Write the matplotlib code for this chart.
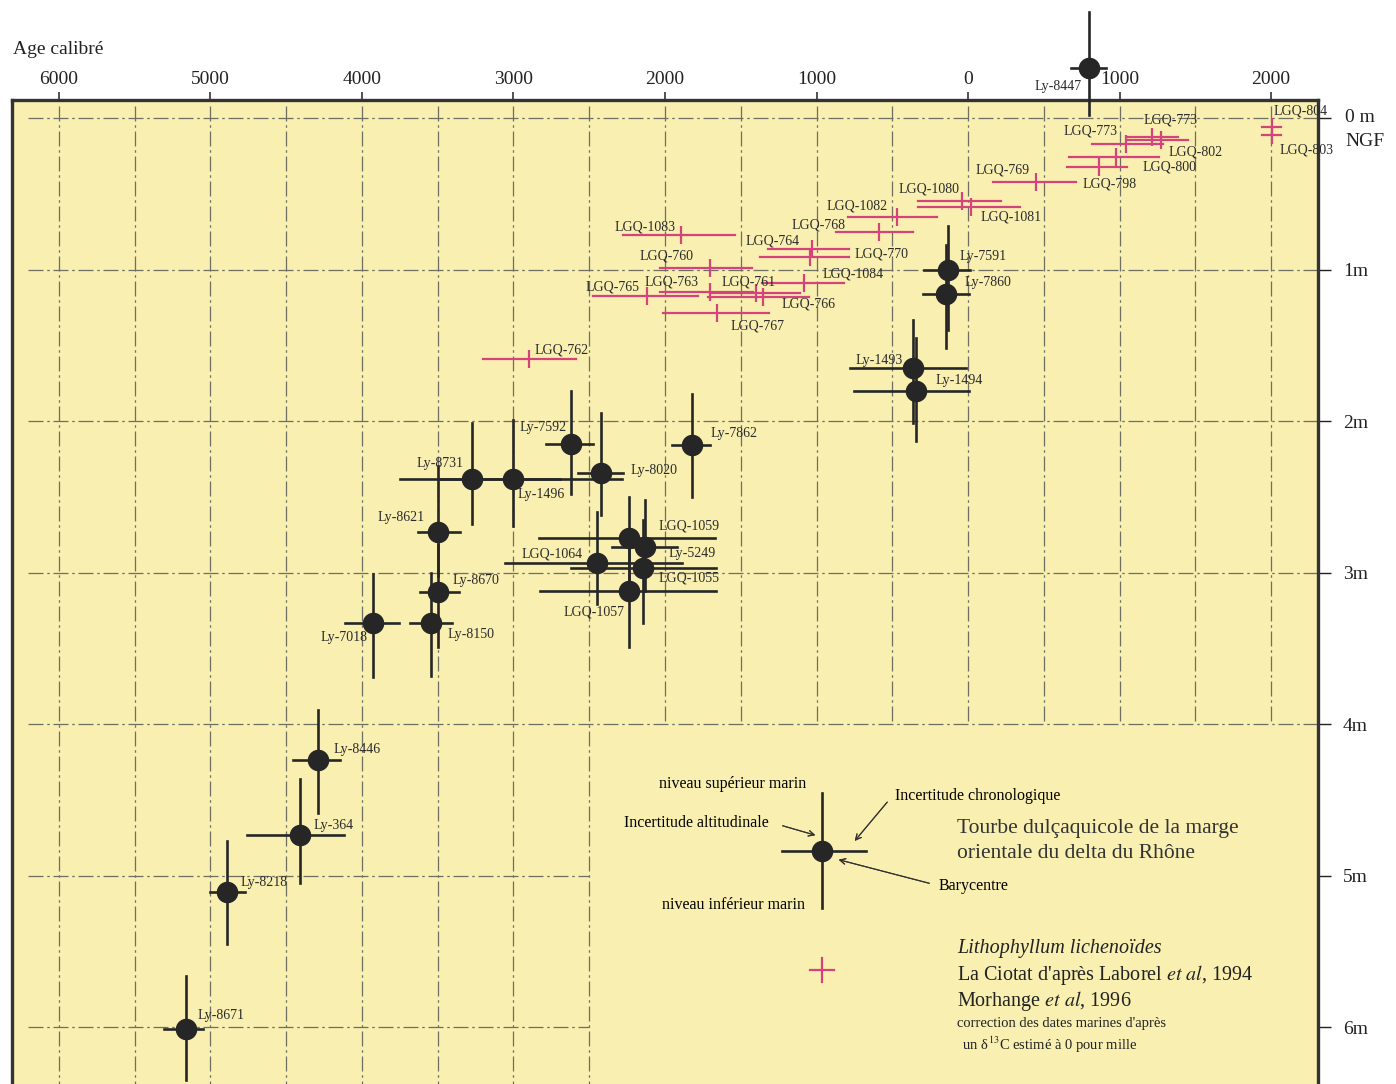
import matplotlib
matplotlib.use("Agg")
import matplotlib.pyplot as plt
from matplotlib.lines import Line2D
import numpy as np

plt.rcParams['font.family'] = ['Liberation Serif', 'DejaVu Serif']
plt.rcParams['mathtext.fontset'] = 'stix'

# Peat dates (black) -- age in years (negative = BC), depth in m below 0 m NGF
peat_labels = ['Ly-8447', 'Ly-7591', 'Ly-7860', 'Ly-1493', 'Ly-1494', 'Ly-7592', 'Ly-7862',
               'Ly-8020', 'Ly-8731', 'Ly-1496', 'Ly-8621', 'Ly-8670', 'Ly-8150', 'Ly-7018',
               'LGQ-1059', 'Ly-5249', 'LGQ-1064', 'LGQ-1055', 'LGQ-1057',
               'Ly-8446', 'Ly-364', 'Ly-8218', 'Ly-8671']
peat_age = [800, -130, -145, -365, -345, -2620, -1820, -2420, -3275, -3000, -3500, -3500,
            -3545, -3925, -2240, -2130, -2450, -2145, -2240, -4290, -4410, -4890, -5160]
peat_depth = [-0.33, 1.00, 1.16, 1.65, 1.80, 2.15, 2.16, 2.34, 2.38, 2.38, 2.73, 3.13,
              3.33, 3.33, 2.77, 2.83, 2.94, 2.97, 3.12, 4.24, 4.73, 5.11, 6.01]
peat_age_lo = [680, -290, -297, -780, -750, -2785, -1955, -2575, -3750, -3485, -3630, -3615,
               -3685, -4110, -2830, -2350, -3055, -2620, -2825, -4455, -4760, -5000, -5305]
peat_age_hi = [910, 15, 5, -15, 5, -2475, -1705, -2275, -2690, -2285, -3355, -3360,
               -3405, -3755, -1670, -1920, -1890, -1665, -1665, -4145, -4120, -4770, -5050]
peat_dep_top = [-0.70, 0.71, 0.84, 1.33, 1.45, 1.80, 1.82, 1.95, 2.01, 1.99, 2.30, 2.82,
                3.00, 3.01, 2.50, 2.52, 2.60, 2.65, 2.72, 3.91, 4.36, 4.77, 5.66]
peat_dep_bot = [-0.02, 1.40, 1.52, 2.01, 2.13, 2.48, 2.50, 2.62, 2.68, 2.69, 3.02, 3.49,
                3.68, 3.69, 3.18, 3.12, 3.21, 3.33, 3.49, 4.59, 5.05, 5.45, 6.35]

# Lithophyllum lichenoides dates (pink)
litho_labels = ['LGQ-804', 'LGQ-803', 'LGQ-773', 'LGQ-802', 'LGQ-773', 'LGQ-800', 'LGQ-798',
                'LGQ-769', 'LGQ-1080', 'LGQ-1081', 'LGQ-1082', 'LGQ-768', 'LGQ-764', 'LGQ-770',
                'LGQ-1083', 'LGQ-760', 'LGQ-1084', 'LGQ-765', 'LGQ-763', 'LGQ-761', 'LGQ-766',
                'LGQ-767', 'LGQ-762']
litho_age = [2005, 2005, 1215, 1275, 1045, 975, 865, 450, -40, 20, -470, -585, -1030, -1045,
             -1895, -1705, -1085, -2120, -1705, -1400, -1355, -1655, -2900]
litho_depth = [0.06, 0.11, 0.125, 0.145, 0.17, 0.26, 0.32, 0.42, 0.55, 0.59, 0.65, 0.75,
               0.865, 0.92, 0.77, 0.99, 1.09, 1.175, 1.15, 1.155, 1.18, 1.29, 1.59]
litho_age_lo = [1940, 1940, 1050, 1050, 820, 665, 655, 165, -330, -330, -790, -870, -1320,
                -1375, -2275, -2035, -1360, -2475, -2035, -1705, -1715, -2015, -3200]
litho_age_hi = [2065, 2065, 1385, 1450, 1285, 1260, 1050, 715, 220, 345, -205, -365, -785,
                -785, -1540, -1425, -820, -1780, -1420, -1110, -1050, -1315, -2585]

top_ticks = [-6000, -5000, -4000, -3000, -2000, -1000, 0, 1000, 2000]
top_tick_labels = ['6000', '5000', '4000', '3000', '2000', '1000', '0', '1000', '2000']
right_ticks = [0, 1, 2, 3, 4, 5, 6]
right_tick_labels = ['', '1m', '2m', '3m', '4m', '5m', '6m']

# label offsets (pixels from the point)
peat_offsets = [(-31, -18), (35, 13), (42, 11), (-34, 8), (43, 10), (-28, 16), (42, 12),
                (53, 2), (-32, 15), (28, -16), (-37, 14), (38, 12), (40, -12), (-29, -15),
                (60, 12), (47, -7), (-45, 9), (46, -10), (-35, -21), (39, 11), (34, 9),
                (37, 10), (35, 13)]
litho_offsets = [(29, 16), (35, -15), (18, 17), (34, -12), (-36, 13), (54, -10), (11, -17),
                 (-34, 12), (-33, 12), (40, -10), (-40, 11), (-61, 7), (-39, 8), (72, 3),
                 (-36, 8), (-43, 12), (49, 9), (-34, 9), (-38, 10), (-7, 11), (46, -7),
                 (40, -13), (33, 9)]

W, H = 1396, 1084
def fx(px):
    return px / W
def fy(py):
    return 1 - py / H

BLACK = '#262626'
PINK = '#d4437c'
GRID = '#6e6e62'
BG = '#f8efb0'

fig = plt.figure(figsize=(W / 100, H / 100), dpi=100)
ax = fig.add_axes([fx(12), 0, fx(1318) - fx(12), fy(100)])
ax.set_facecolor(BG)
ax.set_xlim(-6310, 2310)
ax.set_ylim(6.376, -0.119)

# dash-dot grid
dashes = (0, (12, 3, 2, 3))
for gx in np.arange(-6000, 2001, 500):
    bottom = 6.376 if gx <= -2500 else 4.0
    ax.plot([gx, gx], [-0.08, bottom], color=GRID, lw=0.9, ls=dashes, zorder=1)
for gy in [0, 1, 2, 3, 4]:
    ax.plot([-6205, 2310], [gy, gy], color=GRID, lw=0.9, ls=dashes, zorder=1)
for gy in [5, 6]:
    ax.plot([-6205, -2500], [gy, gy], color=GRID, lw=0.9, ls=dashes, zorder=1)

# pink crosses
for i in range(len(litho_labels)):
    ax.plot([litho_age_lo[i], litho_age_hi[i]], [litho_depth[i]] * 2, color=PINK, lw=1.6, zorder=3)
    ax.plot(litho_age[i], litho_depth[i], marker='|', ms=13, mew=1.6, color=PINK, zorder=3)
    ax.annotate(litho_labels[i], (litho_age[i], litho_depth[i]), xytext=litho_offsets[i],
                textcoords='offset pixels', ha='center', va='center', fontsize=10,
                color='#2a2a2a', zorder=5, annotation_clip=False)

# black barycentres with error bars
for i in range(len(peat_labels)):
    ax.plot([peat_age_lo[i], peat_age_hi[i]], [peat_depth[i]] * 2, color=BLACK, lw=1.9,
            zorder=4, clip_on=False)
    ax.plot([peat_age[i], peat_age[i]], [peat_dep_top[i], peat_dep_bot[i]], color=BLACK,
            lw=1.9, zorder=4, clip_on=False)
    ax.plot(peat_age[i], peat_depth[i], 'o', ms=14.5, color=BLACK, zorder=4, clip_on=False)
    ax.annotate(peat_labels[i], (peat_age[i], peat_depth[i]), xytext=peat_offsets[i],
                textcoords='offset pixels', ha='center', va='center', fontsize=10,
                color='#2a2a2a', zorder=5, annotation_clip=False)

# axes
for side in ['left', 'top', 'right']:
    ax.spines[side].set_linewidth(2.4)
    ax.spines[side].set_color('#333333')
ax.spines['bottom'].set_visible(False)
ax.xaxis.set_ticks_position('top')
ax.set_xticks(top_ticks)
ax.set_xticklabels(top_tick_labels)
ax.tick_params(axis='x', direction='out', length=6, width=1.1, labelsize=14, pad=3,
               colors='#222222')
ax.yaxis.set_ticks_position('right')
ax.set_yticks(right_ticks)
ax.set_yticklabels(right_tick_labels)
ax.tick_params(axis='y', direction='out', length=9, width=1.0, labelsize=14, pad=9,
               colors='#222222')

fig.text(fx(13), fy(50), 'Age calibré', fontsize=14, ha='left', va='center', color='#222222')
fig.text(fx(1345), fy(118), '0 m', fontsize=14, ha='left', va='center', color='#222222')
fig.text(fx(1345), fy(141), 'NGF', fontsize=14, ha='left', va='center', color='#222222')

# legend sample cross
cx, cy = 822, 851
fig.add_artist(Line2D([fx(782), fx(866)], [fy(cy), fy(cy)], color=BLACK, lw=1.9))
fig.add_artist(Line2D([fx(cx), fx(cx)], [fy(793), fy(908)], color=BLACK, lw=1.9))
fig.add_artist(Line2D([fx(cx)], [fy(cy)], marker='o', ms=14.5, color=BLACK))
fig.text(fx(733), fy(784), 'niveau supérieur marin', fontsize=11.5, ha='center', va='center')
fig.text(fx(733), fy(905), 'niveau inférieur marin', fontsize=11.5, ha='center', va='center')
fig.text(fx(696), fy(823), 'Incertitude altitudinale', fontsize=11.5, ha='center', va='center')
fig.text(fx(978), fy(796), 'Incertitude chronologique', fontsize=11.5, ha='center', va='center')
fig.text(fx(974), fy(886), 'Barycentre', fontsize=11.5, ha='center', va='center')
arrow = dict(arrowstyle='->', color='#333333', lw=0.8)
fig.add_artist(plt.annotate('', xy=(fx(818), fy(836)), xytext=(fx(780), fy(825)),
                            xycoords='figure fraction', arrowprops=arrow))
fig.add_artist(plt.annotate('', xy=(fx(853), fy(843)), xytext=(fx(889), fy(800)),
                            xycoords='figure fraction', arrowprops=arrow))
fig.add_artist(plt.annotate('', xy=(fx(836), fy(859)), xytext=(fx(932), fy(884)),
                            xycoords='figure fraction', arrowprops=arrow))

fig.text(fx(957), fy(828), 'Tourbe dulçaquicole de la marge', fontsize=15.5, ha='left',
         va='center', color='#333333')
fig.text(fx(957), fy(854), 'orientale du delta du Rhône', fontsize=15.5, ha='left',
         va='center', color='#333333')

# pink legend cross
fig.add_artist(Line2D([fx(810), fx(834)], [fy(970), fy(970)], color=PINK, lw=1.6))
fig.add_artist(Line2D([fx(822), fx(822)], [fy(958), fy(982)], color=PINK, lw=1.6))
fig.text(fx(957), fy(948), 'Lithophyllum lichenoïdes', fontsize=14.5, style='italic',
         ha='left', va='center', color='#222222')
fig.text(fx(957), fy(975), r"La Ciotat d'après Laborel $\mathit{et\ al}$, 1994", fontsize=14.5,
         ha='left', va='center', color='#222222')
fig.text(fx(957), fy(1001), r"Morhange $\mathit{et\ al}$, 1996", fontsize=14.5,
         ha='left', va='center', color='#222222')
fig.text(fx(957), fy(1024), "correction des dates marines d'après", fontsize=10.5,
         ha='left', va='center', color='#222222')
fig.text(fx(959), fy(1045), r" un δ$^{13}$C estimé à 0 pour mille", fontsize=10.5,
         ha='left', va='center', color='#222222')

fig.savefig('out.png', dpi=100, facecolor='white')
